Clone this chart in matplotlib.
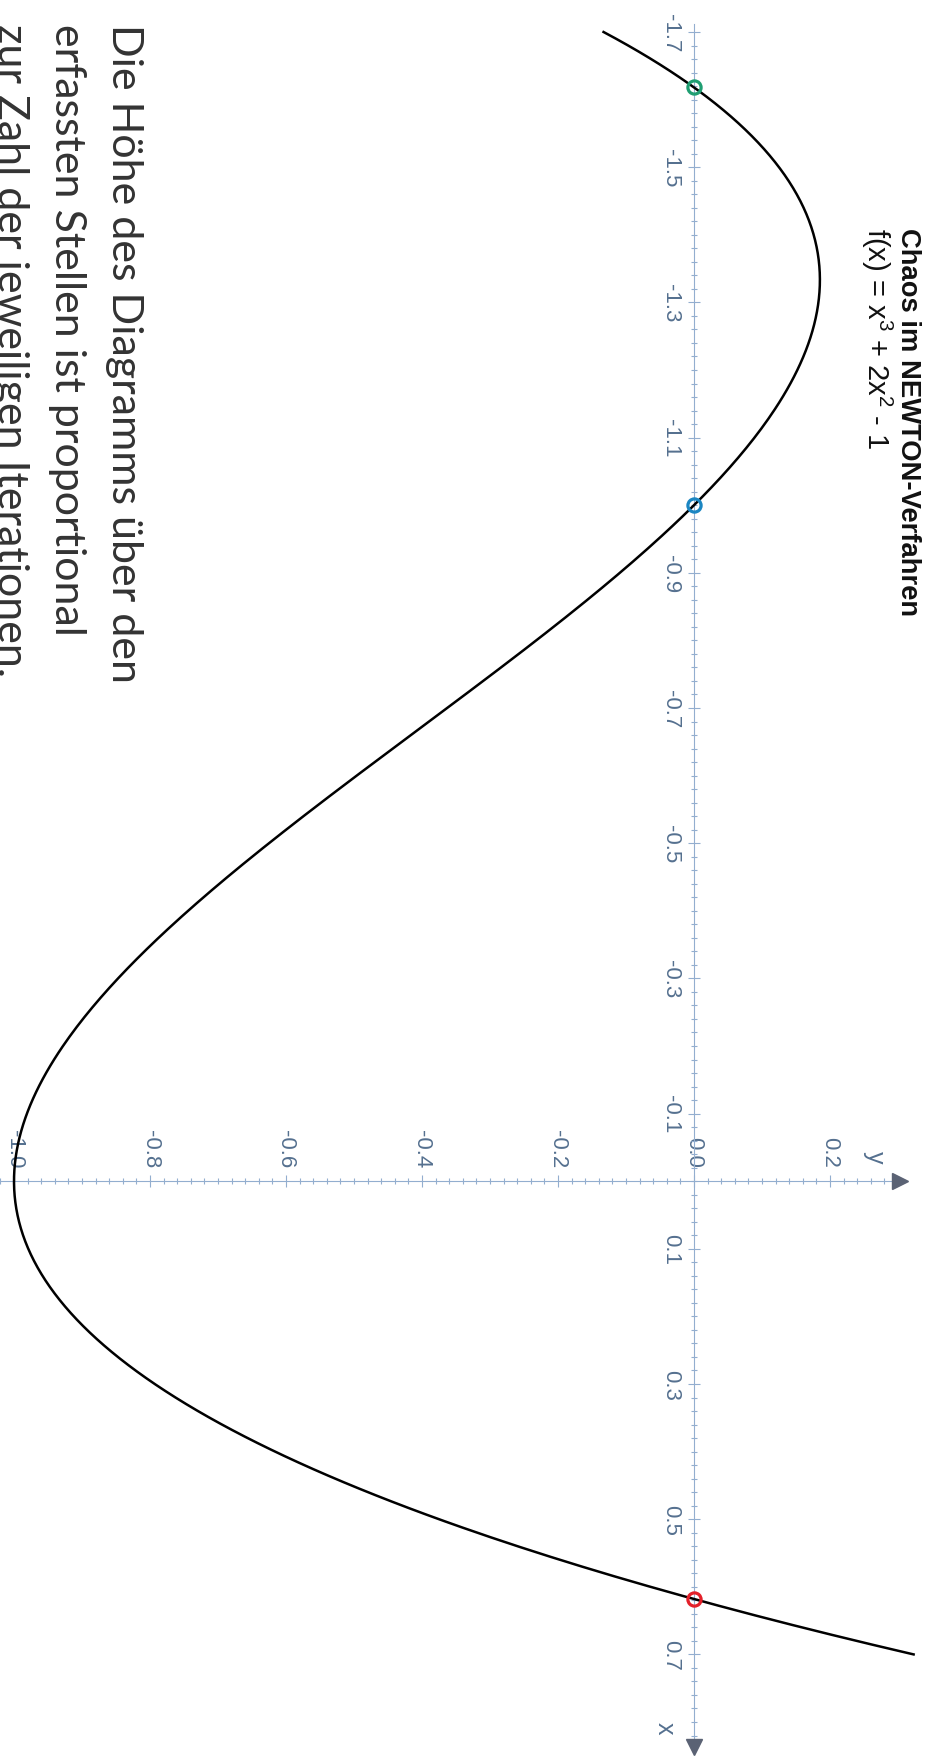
import numpy as np
import matplotlib
matplotlib.use("Agg")
import matplotlib.pyplot as plt
from matplotlib.ticker import FixedLocator

plt.rcParams['axes.unicode_minus'] = False
plt.rcParams['mathtext.fontset'] = 'custom'
plt.rcParams['mathtext.rm'] = 'Liberation Sans'
plt.rcParams['mathtext.it'] = 'Liberation Sans'
plt.rcParams['mathtext.default'] = 'regular'

# function from the title: f(x) = x^3 + 2x^2 - 1
coeffs = [1, 2, 0, -1]
x_range = [-1.7, 0.7]

# zeros marked on the x-axis
root_x = [-1.618, -1.0, 0.618]
root_colors = ['#1f9e72', '#1b86c2', '#e3202a']

x_ticks = [-1.7, -1.5, -1.3, -1.1, -0.9, -0.7, -0.5, -0.3, -0.1, 0.1, 0.3, 0.5, 0.7]
y_ticks = [-1.0, -0.8, -0.6, -0.4, -0.2, 0.0, 0.2]

title = "Chaos im NEWTON-Verfahren"
formula = "f(x) = x$^3$ + 2x$^2$ - 1"
note_lines = ["Die Höhe des Diagramms über den",
              "erfassten Stellen ist proportional",
              "zur Zahl der jeweiligen Iterationen."]

W, H = 930, 1765
axis_col = '#93aecf'
label_col = '#55708f'
arrow_col = '#5a6274'

fig = plt.figure(figsize=(W / 100, H / 100), dpi=100)
ax = fig.add_axes([0, 0, 1, 1])
ax.set_facecolor('none')

# page is turned: x runs downwards, y runs to the right
ax.set_xlim(-1.0206, 0.3471)
ax.set_ylim(0.8621, -1.7488)

xs = np.linspace(x_range[0], x_range[1], 500)
ax.plot(np.polyval(coeffs, xs), xs, color='black', lw=1.8, zorder=3)

for r, c in zip(root_x, root_colors):
    ax.plot(0, r, marker='o', ms=9.5, mfc='none', mec=c, mew=2.3, zorder=4)

# axes through the origin
for s in ['right', 'bottom']:
    ax.spines[s].set_visible(False)
ax.spines['left'].set_position(('data', 0))
ax.spines['left'].set_bounds(-1.712, 0.83)
ax.spines['top'].set_position(('data', 0))
ax.spines['top'].set_bounds(-1.03, 0.29)
for s in ['left', 'top']:
    ax.spines[s].set_color(axis_col)
    ax.spines[s].set_linewidth(0.8)

ax.xaxis.set_ticks_position('top')
ax.set_xticks(y_ticks)
ax.set_xticklabels(['%.1f' % v for v in y_ticks])
ax.set_yticks(x_ticks)
ax.set_yticklabels(['%.1f' % v for v in x_ticks])
ax.xaxis.set_minor_locator(FixedLocator(np.arange(-1.04, 0.29, 0.02)))
ax.yaxis.set_minor_locator(FixedLocator(np.arange(-1.70, 0.83, 0.02)))

ax.tick_params(which='both', direction='inout', color=axis_col, width=0.8)
ax.tick_params(which='major', length=8, labelsize=16, labelcolor=label_col,
               labelrotation=-90)
ax.tick_params(which='minor', length=5)
ax.tick_params(axis='y', which='major', pad=5)
ax.tick_params(axis='x', which='major', pad=6)
for lab in ax.get_yticklabels() + ax.get_xticklabels():
    lab.set_fontfamily('Liberation Sans')
for lab in ax.get_yticklabels():
    lab.set_va('center')

# arrow heads and axis names
ax.plot(0, 0.837, marker='v', ms=12, color=arrow_col, zorder=5, clip_on=False)
ax.plot(0.303, 0, marker='>', ms=12, color=arrow_col, zorder=5, clip_on=False)
ax.text(-0.043, 0.808, 'x', rotation=-90, ha='center', va='center',
        fontsize=18, color=label_col, family='Liberation Sans')
ax.text(0.266, -0.037, 'y', rotation=-90, ha='center', va='center',
        fontsize=18, color=label_col, family='Liberation Sans')


def fx(px):
    return px / W


def fy(py):
    return 1 - py / H


fig.text(fx(901), fy(228), title, rotation=-90, rotation_mode='anchor',
         ha='left', va='baseline', fontsize=19.7, fontweight='bold',
         family='Liberation Sans', color='#111111')
fig.text(fx(867), fy(228), formula, rotation=-90, rotation_mode='anchor',
         ha='left', va='baseline', fontsize=21, family='Liberation Sans',
         color='#111111')

for base, line in zip([112, 55, -2], note_lines):
    fig.text(fx(base), fy(24), line, rotation=-90, rotation_mode='anchor',
             ha='left', va='baseline', fontsize=31, family='Lato',
             color='#333333')

fig.savefig('out.png', dpi=100)
